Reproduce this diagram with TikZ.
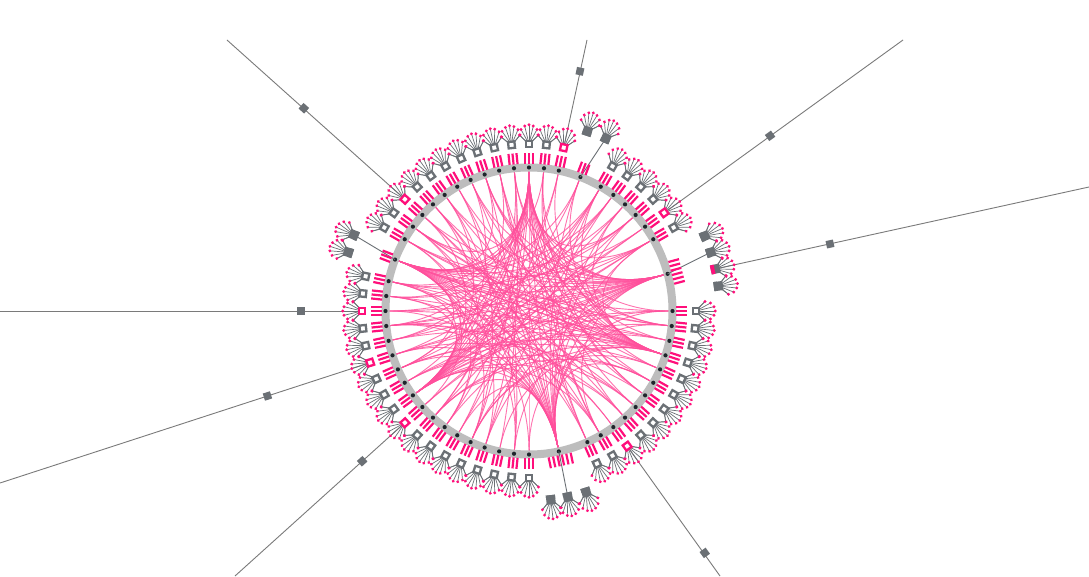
\documentclass[tikz,border=0pt]{standalone}
\usetikzlibrary{calc}
\definecolor{pinkC}{HTML}{FF0F7B}
\definecolor{edgeC}{HTML}{FF4F9C}
\definecolor{ringC}{HTML}{BDBDBD}
\definecolor{dotC}{HTML}{1E252B}
\definecolor{grayC}{HTML}{6B7075}
\definecolor{lineC}{HTML}{7A7A7A}
\tikzset{
 edgeln/.style={edgeC, line width=0.9, opacity=0.8},
 fanln/.style={grayC, line width=0.7},
 longln/.style={lineC, line width=0.9},
 satln/.style={grayC, line width=0.9},
 lsq/.style={rectangle, fill=grayC, minimum size=7.5pt, inner sep=0pt, outer sep=0pt},
}
\newcommand\myfan{%
  \draw[fanln] (2.5,-3.3) -- (9,-9.5) (2.5,3.3) -- (9,9.5);
  \foreach \u/\v in {9/-9.5,14.5/-8,18/-4.3,19.3/0,18/4.3,14.5/8,9/9.5}{\draw[fanln] (0,0) -- (\u,\v);}
  \foreach \u/\v in {9/-9.5,14.5/-8,18/-4.3,19.3/0,18/4.3,14.5/8,9/9.5}{\fill[pinkC] (\u,\v) circle (1.6);}
}
\newcommand\mybars[2]{%
  \begin{scope}[rotate=#1]
    \foreach \y in {#2}{\fill[pinkC] (147.3,\y-1.1) rectangle (158.3,\y+1.1);}
  \end{scope}}
\newcommand\myflower[2]{%
  \mybars{#1}{-4,0,4}%
  \begin{scope}[rotate=#1]
    \begin{scope}[shift={(167,0)}]
      \myfan
      \draw[line width=2.3, draw=#2, fill=white] (-3.2,-3.2) rectangle (3.2,3.2);
    \end{scope}
  \end{scope}}
\newcommand\mysat[3]{%
  \begin{scope}[rotate=#1]
    \begin{scope}[shift={(#2,0)}]
      \myfan
      \fill[grayC] (-4.6,-4.6) rectangle (4.6,4.6);
      \fill[#3] (-4.6,-4.6) rectangle (-0.8,4.6);
    \end{scope}
  \end{scope}}
\begin{document}
\begin{tikzpicture}[x=1pt,y=1pt]
\useasboundingbox (-529,-265) rectangle (560,311);
\fill[white] (-529,-265) rectangle (560,311);
% node anchors
\foreach \a in {0,15,30,36,42,48,54,60,69,78,84,90,96,102,108,114,120,126,132,138,144,150,159,168,174,180,186,192,198,204,210,216,222,228,234,240,246,252,258,264,270,282,294,300,306,312,318,324,330,336,342,348,354}{
  \coordinate (e\a) at (\a:140);
  \coordinate (k\a) at (\a:62);
  \coordinate (d\a) at (\a:143.5);
}
% edges from hubs
\foreach \b in {0,354,348,336,324,312,300,294,270,252,240,228,210,204,192,186,174,168,159,144,30,42}
  \draw[edgeln] (e90) .. controls (k90) and (k\b) .. (e\b);
\foreach \b in {0,354,348,342,330,318,306,294,282,264,246,234,15,30,42,54,60,69,84,108,204,222}
  \draw[edgeln] (e159) .. controls (k159) and (k\b) .. (e\b);
\foreach \b in {0,354,15,30,36,48,54,60,69,78,90,102,114,126,138,150,168,174,282,300,312,330}
  \draw[edgeln] (e216) .. controls (k216) and (k\b) .. (e\b);
\foreach \b in {0,15,30,42,48,60,69,90,102,114,120,132,144,168,180,186,198,204,228,240,330,354}
  \draw[edgeln] (e282) .. controls (k282) and (k\b) .. (e\b);
\foreach \b in {30,48,60,69,78,96,108,120,132,144,150,159,168,174,186,192,204,228,246,258,270}
  \draw[edgeln] (e342) .. controls (k342) and (k\b) .. (e\b);
\foreach \b in {84,96,108,114,126,138,144,150,168,180,186,192,198,210,222,234,246,252,264,300,90}
  \draw[edgeln] (e15) .. controls (k15) and (k\b) .. (e\b);
% other edges
\foreach \a/\b in {30/186,36/204,42/228,48/174,54/252,60/198,78/234,84/300,96/246,102/318,108/264,114/330,126/324,132/294,138/312,144/336,150/354,168/36,174/300,180/42,186/318,192/54,198/324,204/336,210/348,222/30,228/96,234/132,240/60,246/120,252/144,258/96,264/126,270/150,294/102,300/138,306/168,312/186,318/210,324/84,330/228,336/246,348/180,354/108,0/198}
  \draw[edgeln] (e\a) .. controls (k\a) and (k\b) .. (e\b);
% ring and dots
\draw[ringC, line width=8] (0,0) circle (143.5);
\foreach \a in {0,15,30,36,42,48,54,60,69,78,84,90,96,102,108,114,120,126,132,138,144,150,159,168,174,180,186,192,198,204,210,216,222,228,234,240,246,252,258,264,270,282,294,300,306,312,318,324,330,336,342,348,354}
  \fill[dotC] (d\a) circle (2.1);
% long lines
\coordinate (f78) at (78:167);   \coordinate (t1) at (58,271);
\coordinate (f36) at (36:167);   \coordinate (t2) at (374,271);
\coordinate (sp) at (12.7:191);  \coordinate (t3) at (560,124);
\coordinate (f306) at (306:167); \coordinate (t4) at (191,-265);
\coordinate (f222) at (222:167); \coordinate (t5) at (-294,-265);
\coordinate (f198) at (198:167); \coordinate (t6) at (-529,-172);
\coordinate (f180) at (180:167); \coordinate (t7) at (-529,0);
\coordinate (f138) at (138:167); \coordinate (t8) at (-302,271);
\draw[longln] (f78) -- (t1);
\draw[longln] (f36) -- (t2);
\draw[longln] (sp) -- (t3);
\draw[longln] (f306) -- (t4);
\draw[longln] (f222) -- (t5);
\draw[longln] (f198) -- (t6);
\draw[longln] (f180) -- (t7);
\draw[longln] (f138) -- (t8);
\node[lsq, rotate=78] (q1) at (78:245) {};
\node[lsq, rotate=36] (q2) at (36:298) {};
\node[lsq, rotate=12.4] (q3) at (301,67) {};
\node[lsq, rotate=306] (q4) at (306:299) {};
\node[lsq, rotate=222] (q5) at (222:224.5) {};
\node[lsq, rotate=198] (q6) at (198:275) {};
\node[lsq, rotate=180] (q7) at (180:228) {};
\node[lsq, rotate=138] (q8) at (138:303) {};
% satellite links
\coordinate (sa) at (66:189);
\coordinate (sb) at (156.5:191);
\coordinate (sc) at (17.9:191);
\coordinate (sd) at (281.8:190);
\draw[satln] (d69) -- (sa);
\draw[satln] (d159) -- (sb);
\draw[satln] (d15) -- (sc);
\draw[satln] (d282) -- (sd);
% flowers
\foreach \a in {0,30,42,48,54,60,84,90,96,102,108,114,120,126,132,144,150,168,174,186,192,204,210,216,228,234,240,246,252,258,264,270,294,300,312,318,324,330,336,342,348,354}
  {\myflower{\a}{grayC}}
\foreach \a in {36,78,138,180,198,222,306}
  {\myflower{\a}{pinkC}}
% special bar groups
\mybars{69}{-4,0,4}
\mybars{159}{-4,0,4}
\mybars{15}{-11.25,-6.75,-2.25,2.25,6.75,11.25}
\mybars{282}{-11.25,-6.75,-2.25,2.25,6.75,11.25}
% satellites
\mysat{72}{189}{grayC}
\mysat{66}{189}{grayC}
\mysat{156.5}{191}{grayC}
\mysat{162}{190}{grayC}
\mysat{23.1}{191}{grayC}
\mysat{17.9}{191}{grayC}
\mysat{12.7}{191}{pinkC}
\mysat{7.5}{191}{grayC}
\mysat{276.6}{190}{grayC}
\mysat{281.8}{190}{grayC}
\mysat{287.5}{190}{grayC}
\end{tikzpicture}
\end{document}
